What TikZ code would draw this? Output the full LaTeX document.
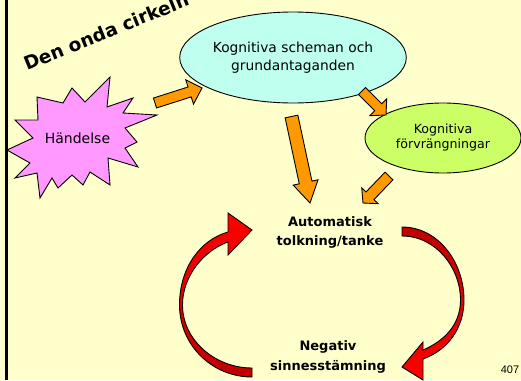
\documentclass[tikz,border=0pt]{standalone}
\usepackage{fontspec}
\setmainfont{DejaVu Sans}
\newfontfamily\numfont{Liberation Sans}
\usetikzlibrary{shapes.geometric,calc}

\definecolor{slidebg}{HTML}{FFFFCC}
\definecolor{schemafill}{HTML}{BFFFEF}
\definecolor{distfill}{HTML}{CCFF66}
\definecolor{eventfill}{HTML}{FF99FF}
\definecolor{flow}{HTML}{FF9900}
\definecolor{loopred}{HTML}{FF0000}
\definecolor{loopdark}{HTML}{C00000}

\tikzset{
  flowarrow/.style={draw=black, line width=0.9pt, fill=flow, line join=miter},
  loopband/.style={draw=black, line width=0.9pt, line join=miter},
  bubble/.style={ellipse, draw=black, line width=0.9pt, inner sep=0pt, align=center},
  plain/.style={align=center, inner sep=0pt},
}

% block arrow: from, to, half shaft width, half head width, head length
\newcommand\blockarrow[5]{%
  \coordinate (ba-h) at ($(#2)!#5!(#1)$);
  \draw[flowarrow]
    ($(#1)!#3!90:(#2)$) -- ($(ba-h)!#3!90:(#2)$) -- ($(ba-h)!#4!90:(#2)$) --
    (#2) --
    ($(ba-h)!#4!-90:(#2)$) -- ($(ba-h)!#3!-90:(#2)$) -- ($(#1)!#3!-90:(#2)$) -- cycle;}

\begin{document}
\begin{tikzpicture}[x=1pt, y=-1pt]
  % slide background and left rule
  \fill[slidebg] (0,0) rectangle (521,380);
  \useasboundingbox (0,0) rectangle (521,380);
  \fill[black] (4.5,0) rectangle (7.5,380);

  % title
  \begin{scope}
    \clip (0,0) rectangle (521,380);
    \node[anchor=base west, rotate=22, inner sep=0pt,
          font=\fontsize{18.5}{22}\selectfont\bfseries] (title) at (27,71) {Den onda cirkeln};
  \end{scope}

  % event burst
  \draw[fill=eventfill, line width=0.9pt, line join=miter]
    (37,97) -- (63,103) -- (72,88) -- (85,102) -- (110,77) -- (107,107) --
    (133,98) -- (123,113) -- (157,115) -- (125,128) -- (137,142) -- (125,148) --
    (138,167) -- (108,158) -- (110,185) -- (90,172) -- (83,185) -- (72,175) --
    (58,188) -- (52,178) -- (40,198) -- (37,173) -- (15,178) -- (30,163) --
    (7,150) -- (33,138) -- (15,120) -- (38,120) -- cycle;
  \node[plain, font=\fontsize{14}{16}\selectfont] (event) at (77.5,138) {Händelse};

  % belief bubbles
  \node[bubble, fill=schemafill, minimum width=200pt, minimum height=91pt,
        font=\fontsize{13.8}{18}\selectfont] (schema) at (293,57.5)
        {Kognitiva scheman och\\grundantaganden};
  \node[bubble, fill=distfill, minimum width=156pt, minimum height=70pt,
        font=\fontsize{12.6}{15}\selectfont] (distort) at (443,138)
        {Kognitiva\\förvrängningar};

  % loop labels
  \node[plain, font=\fontsize{13}{19}\selectfont\bfseries] (auto) at (330,232)
        {Automatisk\\tolkning/tanke};
  \node[plain, font=\fontsize{13}{20}\selectfont\bfseries] (mood) at (328,357)
        {Negativ\\sinnesstämning};

  \node[plain, font=\numfont\fontsize{11}{12}\selectfont] (page) at (510,370) {407};

  % flow arrow end points
  \coordinate (e1s) at (155,103);   \coordinate (e1t) at (202,88);
  \coordinate (s1s) at (362,91);    \coordinate (s1t) at (386,115);
  \coordinate (s2s) at (291.5,116.5); \coordinate (s2t) at (310,203);
  \coordinate (d1s) at (389,176);   \coordinate (d1t) at (363,203);

  \blockarrow{e1s}{e1t}{5.2pt}{12.8pt}{13pt}
  \blockarrow{s1s}{s1t}{5pt}{12pt}{11pt}
  \blockarrow{s2s}{s2t}{6.5pt}{12.7pt}{21pt}
  \blockarrow{d1s}{d1t}{5.5pt}{11.4pt}{10pt}

  % vicious circle: mood back to thought (left), thought to mood (right)
  \draw[loopband, top color=loopred, bottom color=loopdark]
    (252,377) .. controls (212,377) and (179.5,345) .. (179.5,305)
    .. controls (179.5,268) and (200,240) .. (228,232)
    -- (228,213) -- (252,230) -- (228,255) -- (228,242)
    .. controls (205,250) and (182.5,275) .. (182.5,305)
    .. controls (182.5,340) and (215,368) .. (252,368) -- cycle;
  \draw[loopband, top color=loopdark, bottom color=loopred]
    (402,227) .. controls (438,227) and (464,262) .. (464,300)
    .. controls (464,328) and (448,350) .. (423,359)
    -- (423,380) -- (402,367) -- (423,342) -- (423,350)
    .. controls (444,341) and (460.5,325) .. (460.5,300)
    .. controls (460.5,268) and (436,236) .. (402,236) -- cycle;
\end{tikzpicture}
\end{document}
